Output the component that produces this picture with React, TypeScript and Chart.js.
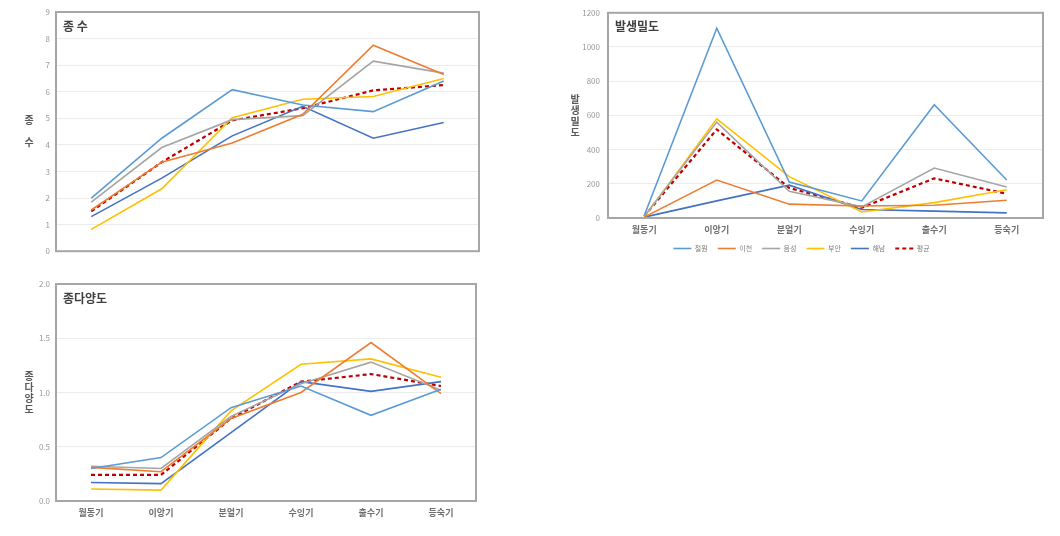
import React, { useEffect, useRef } from 'react';
import { Chart, registerables } from 'chart.js';
Chart.register(...registerables);

const categories = ['월동기', '이앙기', '분얼기', '수잉기', '출수기', '등숙기'];
const seriesNames = ['철원', '이천', '음성', '부안', '해남', '평균'];

// 종 수
const speciesCheorwon = [2.0, 4.25, 6.08, 5.5, 5.25, 6.4];
const speciesIcheon = [1.55, 3.35, 4.07, 5.15, 7.75, 6.65];
const speciesEumseong = [1.85, 3.9, 4.95, 5.1, 7.15, 6.7];
const speciesBuan = [0.82, 2.35, 5.02, 5.72, 5.82, 6.5];
const speciesHaenam = [1.3, 2.75, 4.34, 5.45, 4.25, 4.84];
const speciesMean = [1.5, 3.35, 4.92, 5.38, 6.05, 6.25];

// 발생밀도
const densityCheorwon = [15, 1110, 210, 100, 662, 222];
const densityIcheon = [5, 222, 81, 70, 75, 104];
const densityEumseong = [10, 561, 156, 65, 292, 181];
const densityBuan = [5, 580, 242, 35, 90, 165];
const densityHaenam = [5, 100, 192, 50, 40, 30];
const densityMean = [10, 518, 176, 60, 232, 142];

// 종다양도
const diversityCheorwon = [0.3, 0.4, 0.86, 1.06, 0.79, 1.03];
const diversityIcheon = [0.31, 0.27, 0.76, 1.0, 1.46, 0.99];
const diversityEumseong = [0.32, 0.3, 0.78, 1.08, 1.28, 1.02];
const diversityBuan = [0.11, 0.1, 0.83, 1.26, 1.31, 1.14];
const diversityHaenam = [0.17, 0.16, 0.63, 1.1, 1.01, 1.1];
const diversityMean = [0.24, 0.24, 0.76, 1.1, 1.17, 1.06];

const colors = ['#5B9BD5', '#ED7D31', '#A5A5A5', '#FFC000', '#4472C4', '#C00000'];
const FONT = "'Noto Sans CJK KR', 'Noto Sans', sans-serif";

type PanelProps = {
  x: number; y: number; w: number; h: number;
  left: number; right: number; top: number; xHeight: number; padBottom: number;
  series: number[][];
  yMax: number; yStep: number; decimals: number;
  title: string; yTitle: string; yTitleX: number; yTitleGap: number; yTitleSize: number;
  showX: boolean; showLegend: boolean; tickPad: number;
};

function Panel(p: PanelProps) {
  const ref = useRef<HTMLCanvasElement>(null);
  useEffect(() => {
    const deco = {
      id: 'deco',
      afterDraw(chart: any) {
        const { ctx, chartArea } = chart;
        ctx.save();
        ctx.strokeStyle = '#A6A6A6';
        ctx.lineWidth = 2;
        ctx.strokeRect(chartArea.left, chartArea.top, chartArea.right - chartArea.left, chartArea.bottom - chartArea.top);
        ctx.fillStyle = '#404040';
        ctx.font = `bold 12px ${FONT}`;
        ctx.textAlign = 'left';
        ctx.textBaseline = 'middle';
        ctx.fillText(p.title, chartArea.left + 7, chartArea.top + 14);
        const chars = Array.from(p.yTitle);
        const cy = (chartArea.top + chartArea.bottom) / 2;
        const startY = cy - ((chars.length - 1) * p.yTitleGap) / 2;
        ctx.font = `bold ${p.yTitleSize}px ${FONT}`;
        ctx.fillStyle = '#595959';
        ctx.textAlign = 'center';
        chars.forEach((c, i) => ctx.fillText(c, p.yTitleX, startY + i * p.yTitleGap));
        ctx.restore();
      },
    };
    const chart = new Chart(ref.current!, {
      type: 'line',
      data: {
        labels: categories,
        datasets: p.series.map((vals, i) => ({
          label: seriesNames[i],
          data: vals,
          borderColor: colors[i],
          backgroundColor: colors[i],
          borderWidth: i === 5 ? 2.2 : 1.6,
          borderDash: i === 5 ? [4, 3] : [],
          pointRadius: 0,
          tension: 0,
          fill: false,
        })),
      },
      options: {
        responsive: false,
        animation: false,
        layout: { padding: { left: 0, right: p.w - p.right, top: p.top, bottom: p.padBottom } },
        scales: {
          x: {
            offset: true,
            grid: { display: false, drawTicks: false },
            border: { display: false },
            ticks: { display: p.showX, font: { family: FONT, size: 9, weight: 'bold' }, color: '#6E6E6E', padding: 6 },
            afterFit: (s: any) => { s.height = p.xHeight; },
          },
          y: {
            min: 0,
            max: p.yMax,
            ticks: {
              stepSize: p.yStep,
              font: { family: FONT, size: 8 },
              color: '#9A9A9A',
              padding: p.tickPad,
              callback: (v: any) => Number(v).toFixed(p.decimals),
            },
            grid: { color: '#ECECEC', drawTicks: false },
            border: { display: false },
            afterFit: (s: any) => { s.width = p.left; },
          },
        },
        plugins: {
          legend: {
            display: p.showLegend,
            position: 'bottom',
            labels: {
              usePointStyle: true,
              pointStyle: 'line',
              pointStyleWidth: 18,
              font: { family: FONT, size: 7 },
              color: '#808080',
              padding: 10,
              generateLabels: (c: any) =>
                (Chart.defaults.plugins.legend.labels.generateLabels as any)(c).map((it: any) => {
                  const ds = c.data.datasets[it.datasetIndex];
                  return {
                    ...it,
                    pointStyle: 'line',
                    lineDash: ds.borderDash,
                    lineWidth: ds.borderWidth,
                    strokeStyle: ds.borderColor,
                  };
                }),
            },
          },
          tooltip: { enabled: false },
        },
      } as any,
      plugins: [deco],
    });
    return () => chart.destroy();
  }, []);
  return (
    <canvas
      ref={ref}
      width={p.w}
      height={p.h}
      style={{ position: 'absolute', left: p.x, top: p.y, width: p.w, height: p.h }}
    />
  );
}

export default function App() {
  return (
    <div style={{ position: 'fixed', left: 0, top: 0, width: 1060, height: 536, background: '#fff' }}>
      <Panel
        x={0} y={0} w={540} h={262}
        left={56} right={479} top={12} xHeight={8} padBottom={0}
        series={[speciesCheorwon, speciesIcheon, speciesEumseong, speciesBuan, speciesHaenam, speciesMean]}
        yMax={9} yStep={1} decimals={0}
        title="종 수" yTitle="종 수" yTitleX={29} yTitleGap={11} yTitleSize={10}
        showX={false} showLegend={false} tickPad={6}
      />
      <Panel
        x={560} y={0} w={500} h={262}
        left={48} right={483} top={11} xHeight={17} padBottom={0}
        series={[densityCheorwon, densityIcheon, densityEumseong, densityBuan, densityHaenam, densityMean]}
        yMax={1200} yStep={200} decimals={0}
        title="발생밀도" yTitle="발생밀도" yTitleX={15} yTitleGap={11} yTitleSize={10}
        showX={true} showLegend={true} tickPad={8}
      />
      <Panel
        x={0} y={270} w={540} h={266}
        left={56} right={476} top={14} xHeight={22} padBottom={13}
        series={[diversityCheorwon, diversityIcheon, diversityEumseong, diversityBuan, diversityHaenam, diversityMean]}
        yMax={2} yStep={0.5} decimals={1}
        title="종다양도" yTitle="종다양도" yTitleX={29} yTitleGap={11} yTitleSize={10}
        showX={true} showLegend={false} tickPad={6}
      />
    </div>
  );
}
